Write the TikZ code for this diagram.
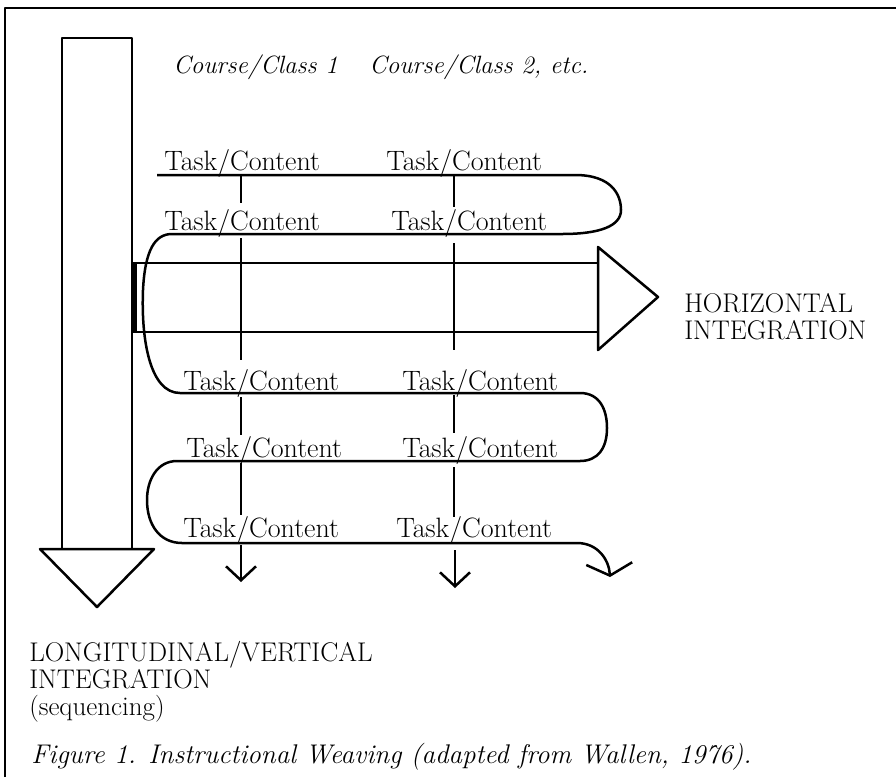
\documentclass[tikz,border=0pt]{standalone}
\usetikzlibrary{arrows.meta}

\tikzset{
  tc/.style={font=\fontsize{28}{30}\selectfont, inner sep=0pt, anchor=base west},
  cls/.style={font=\itshape\fontsize{25}{30}\selectfont, inner sep=0pt, anchor=base west},
  caplab/.style={font=\fontsize{27}{27}\selectfont, inner sep=0pt, anchor=north west, align=left},
  downtip/.style={-{Straight Barb[length=14pt,width=30pt,line width=2.5pt]}},
  widetip/.style={-{Straight Barb[length=12pt,width=46pt,line width=2.5pt]}}
}

\begin{document}
\begin{tikzpicture}[x=1pt,y=-1pt,line width=2.5pt,line join=round]
            \useasboundingbox (0,0) rectangle (896,777);
            \draw[line width=1.8pt] (5,777) -- (5,8) -- (896,8);

            % vertical arrow
            \draw (62,549) -- (62,38) -- (132,38) -- (132,549);
            \draw (40,549) -- (154,549) -- (97,607) -- cycle;
            % horizontal arrow
            \draw (132,263) -- (598,263);
            \draw (132,332) -- (598,332);
            \draw[line width=4pt] (134.5,263) -- (134.5,332);
            \draw (598,247) -- (658,297) -- (598,350) -- cycle;

            \node[cls] (class1) at (172,73) {Course/Class 1};
            \node[cls] (class2) at (368,73) {Course/Class 2, etc.};
            \foreach \n/\x/\y in {11/163/170, 12/385/170, 21/163/230, 22/390/230,
                                  31/182/390, 32/401/390, 41/185/457, 42/401/457,
                                  51/182/537, 52/395/537}
                \node[tc] (task\n) at (\x,\y) {Task/Content};

            % the weave
            \coordinate (wstart) at (157,175);
            \coordinate (wend) at (610,577);
            \draw[widetip] (wstart) -- (575,175)
                .. controls (612,175) and (621,195) .. (621,210)
                .. controls (621,226) and (600,234) .. (562,234) -- (172,234)
                .. controls (155,234) and (145,250) .. (143,290)
                .. controls (141,340) and (150,393) .. (180,393) -- (580,393)
                .. controls (600,393) and (607,410) .. (607,428)
                .. controls (607,448) and (598,461) .. (580,461) -- (177,461)
                .. controls (157,461) and (147,480) .. (147,500)
                .. controls (147,525) and (160,543) .. (182,543) -- (577,543)
                .. controls (598,543) and (609,560) .. (wend);

            % course columns
            \foreach \x/\a/\b in {241/175/203, 241/238/360, 241/397/435, 241/463/515,
                                  454/175/207, 454/243/350, 454/395/433, 454/467/517}
                \draw (\x,\a) -- (\x,\b);
            \draw[downtip] (241,545) -- (241,582);
            \draw[downtip] (455,550) -- (455,588);

            \node[caplab] (horiz) at (683,292) {HORIZONTAL\\INTEGRATION};
            \node[caplab] (longi) at (28,640) {LONGITUDINAL/VERTICAL\\INTEGRATION\\(sequencing)};
            \node[cls, font=\itshape\fontsize{27}{30}\selectfont] (figcap) at (30,763)
                {Figure 1. Instructional Weaving (adapted from Wallen, 1976).};
        \end{tikzpicture}
\end{document}
